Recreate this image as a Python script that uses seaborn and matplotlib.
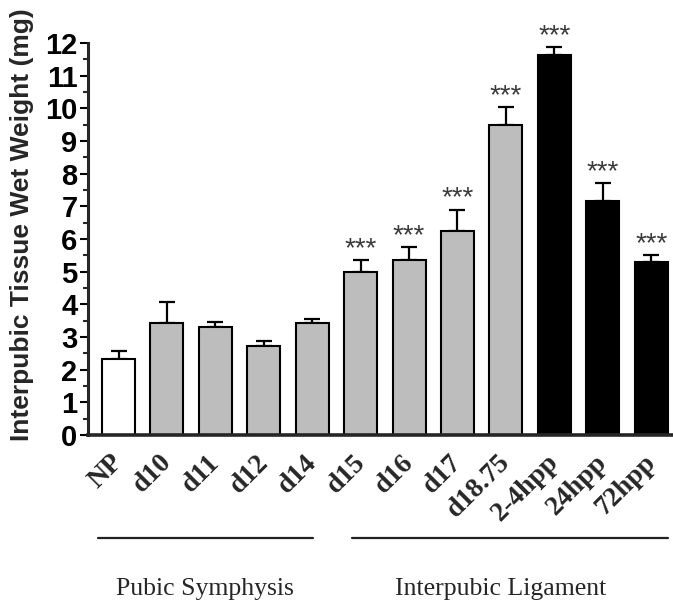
import matplotlib
matplotlib.use("Agg")
import matplotlib.pyplot as plt
import matplotlib.transforms as mtransforms
from matplotlib.ticker import MultipleLocator
import seaborn as sns
import pandas as pd

# ── Data ────────────────────────────────────────────────────────────────────
categories = ['NP', 'd10', 'd11', 'd12', 'd14', 'd15', 'd16', 'd17',
              'd18.75', '2-4hpp', '24hpp', '72hpp']
means = [2.34, 3.44, 3.31, 2.73, 3.44, 5.00, 5.37, 6.23, 9.49, 11.63, 7.17, 5.30]
sem = [0.23, 0.62, 0.16, 0.14, 0.10, 0.36, 0.37, 0.67, 0.55, 0.24, 0.53, 0.21]
stage = ['np', 'preg', 'preg', 'preg', 'preg', 'preg', 'preg', 'preg',
         'preg', 'post', 'post', 'post']
significant = [False, False, False, False, False, True, True, True,
               True, True, True, True]
groups = ['Pubic Symphysis', 'Interpubic Ligament']

STAGE_COLORS = {'np': '#ffffff', 'preg': '#bdbdbd', 'post': '#000000'}
SANS = ['Liberation Sans', 'DejaVu Sans']
SERIF = ['Liberation Serif', 'DejaVu Serif']

df = pd.DataFrame({'cat': categories, 'mean': means, 'sem': sem})
palette = {c: STAGE_COLORS[s] for c, s in zip(categories, stage)}

sns.set_style('ticks')
plt.rcParams['font.family'] = SANS

fig = plt.figure(figsize=(6.73, 6.06), dpi=100)
ax = fig.add_axes([88 / 673, 171 / 606, 585 / 673, 392 / 606])

sns.barplot(data=df, x='cat', y='mean', hue='cat', order=categories,
            palette=palette, legend=False, width=0.68, edgecolor='black',
            linewidth=1.5, errorbar=None, ax=ax, zorder=2)

# upper-only error bars
x = list(range(len(categories)))
ax.errorbar(x, means, yerr=[[0] * len(sem), sem], fmt='none', ecolor='black',
            elinewidth=1.6, capsize=6, capthick=1.6, zorder=1)

for xi, m, e, sig in zip(x, means, sem, significant):
    if sig:
        ax.text(xi, m + e + 0.12, '***', ha='center', va='baseline',
                fontsize=20, color='#3a3a3a', family=SANS)

ax.set_xlim(-0.63, 11.45)
ax.set_ylim(0, 12)
ax.yaxis.set_major_locator(MultipleLocator(1))
ax.yaxis.set_minor_locator(MultipleLocator(0.5))
ax.tick_params(axis='y', which='major', length=6, width=1.5, pad=1.5,
               labelsize=21, colors='black')
ax.tick_params(axis='y', which='minor', length=3.5, width=1.5)
ax.tick_params(axis='x', length=0, pad=4)
for lbl in ax.get_yticklabels():
    lbl.set_fontweight('bold')

ax.set_xticks(x)
ax.set_xticklabels(categories, rotation=45, ha='right', va='top',
                   rotation_mode='anchor', fontsize=20, fontweight='bold',
                   family=SERIF)
offset = mtransforms.ScaledTranslation(-0.08, -0.09, fig.dpi_scale_trans)
for lbl in ax.get_xticklabels():
    lbl.set_transform(lbl.get_transform() + offset)

ax.set_xlabel('')
ax.set_ylabel('Interpubic Tissue Wet Weight (mg)', fontsize=19,
              fontweight='bold')
ax.yaxis.set_label_coords(-0.092, 0.536)

sns.despine(ax=ax)
ax.spines['left'].set_linewidth(2.2)
ax.spines['bottom'].set_linewidth(2.6)

# group brackets and names below the tick labels
trans = mtransforms.blended_transform_factory(ax.transData, ax.transAxes)
ax.plot([-0.42, 4.02], [-0.264, -0.264], color='#222222', lw=1.6,
        transform=trans, clip_on=False)
ax.plot([4.82, 11.35], [-0.264, -0.264], color='#222222', lw=1.6,
        transform=trans, clip_on=False)
ax.text(1.79, -0.408, groups[0], ha='center', va='baseline', fontsize=18.5,
        family=SERIF, transform=trans)
ax.text(7.90, -0.408, groups[1], ha='center', va='baseline', fontsize=18.5,
        family=SERIF, transform=trans)

fig.savefig('out.png', dpi=100)
